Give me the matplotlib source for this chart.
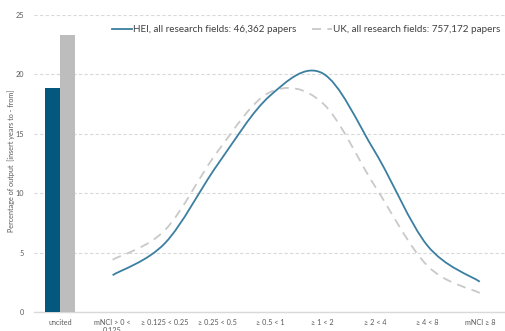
import matplotlib
matplotlib.use("Agg")
import matplotlib.pyplot as plt
import numpy as np
from matplotlib.path import Path
from matplotlib.patches import PathPatch

plt.rcParams["font.family"] = ["Lato", "DejaVu Sans"]

categories = [
    "uncited",
    "mNCI > 0 <\n0.125",
    "\u2265 0.125 < 0.25",
    "\u2265 0.25 < 0.5",
    "\u2265 0.5 < 1",
    "\u2265 1 < 2",
    "\u2265 2 < 4",
    "\u2265 4 < 8",
    "mNCI \u2265 8",
]

hei_uncited = 18.85
uk_uncited = 23.3

hei_cited = [3.1, 5.8, 12.4, 18.2, 20.1, 13.5, 5.6, 2.55]
uk_cited = [4.4, 6.9, 13.5, 18.5, 17.6, 10.6, 3.9, 1.6]

hei_label = "HEI, all research fields: 46,362 papers"
uk_label = "UK, all research fields: 757,172 papers"

BLUE_BAR = "#04587e"
GREY_BAR = "#bdbdbd"
BLUE_LINE = "#3b7fa0"
GREY_LINE = "#c9c9c9"


def smooth_path(x, y):
    # Excel-style smoothed line: cubic Bezier segments through every point
    x = np.asarray(x, dtype=float)
    y = np.asarray(y, dtype=float)
    verts = [(x[0], y[0])]
    codes = [Path.MOVETO]
    n = len(x)
    for i in range(n - 1):
        p0 = np.array([x[max(i - 1, 0)], y[max(i - 1, 0)]])
        p1 = np.array([x[i], y[i]])
        p2 = np.array([x[i + 1], y[i + 1]])
        p3 = np.array([x[min(i + 2, n - 1)], y[min(i + 2, n - 1)]])
        c1 = p1 + (p2 - p0) / 6.0
        c2 = p2 - (p3 - p1) / 6.0
        verts += [tuple(c1), tuple(c2), tuple(p2)]
        codes += [Path.CURVE4] * 3
    return Path(verts, codes)


fig = plt.figure(figsize=(5.06, 3.31), dpi=100)
ax = fig.add_axes([0.067, 0.0574, 0.933, 0.8973])

bar_w = 0.29
ax.bar(-bar_w / 2, hei_uncited, width=bar_w, color=BLUE_BAR, zorder=3)
ax.bar(bar_w / 2, uk_uncited, width=bar_w, color=GREY_BAR, zorder=3)

xs = np.arange(1, len(categories))
uk_patch = PathPatch(smooth_path(xs, uk_cited), facecolor="none",
                     edgecolor=GREY_LINE, lw=1.3, linestyle=(0, (5, 3.5)),
                     zorder=3)
hei_patch = PathPatch(smooth_path(xs, hei_cited), facecolor="none",
                      edgecolor=BLUE_LINE, lw=1.3, zorder=4)
ax.add_patch(uk_patch)
ax.add_patch(hei_patch)

# legend handles
ax.plot([], [], color=BLUE_LINE, lw=1.3, label=hei_label)
ax.plot([], [], color=GREY_LINE, lw=1.3, linestyle=(0, (5, 3.5)), label=uk_label)

ax.set_xlim(-0.5, len(categories) - 0.5)
ax.set_ylim(0, 25)
ax.set_yticks([0, 5, 10, 15, 20, 25])
ax.set_xticks(range(len(categories)))
ax.set_xticklabels(categories, fontsize=5.2, color="#595959", va="top",
                   linespacing=1.1)
ax.tick_params(axis="y", labelsize=5.2, labelcolor="#595959", length=0, pad=7)
ax.tick_params(axis="x", length=0, pad=5)

ax.grid(axis="y", color="#d9d9d9", linestyle=(0, (3, 2)), lw=0.8, zorder=0)
for side in ["top", "right", "left"]:
    ax.spines[side].set_visible(False)
ax.spines["bottom"].set_color("#d9d9d9")
ax.spines["bottom"].set_linewidth(1.0)

ax.set_ylabel("Percentage of output  [insert years to - from]", fontsize=5.2,
              color="#595959", va="center")
ax.yaxis.set_label_coords(-0.049, 0.51)

ax.legend(loc="upper right", ncol=2, frameon=False, fontsize=7.1,
          handlelength=2.0, handletextpad=0.1, columnspacing=1.6,
          bbox_to_anchor=(1.0, 0.985), borderaxespad=0.2, labelcolor="#404040")

fig.savefig("out.png", dpi=100)
